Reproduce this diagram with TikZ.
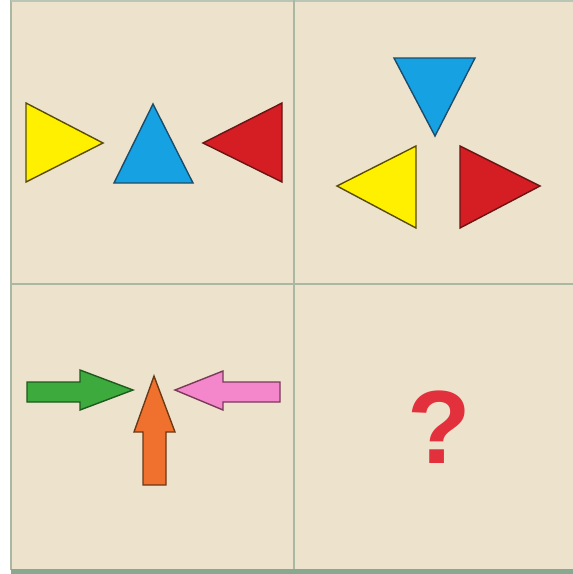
\documentclass[tikz,border=0pt]{standalone}
\usepackage{fontspec}
\setmainfont{Liberation Sans}
\definecolor{bg}{HTML}{EDE2CC}
\definecolor{gridc}{HTML}{A9B8A2}
\definecolor{botc}{HTML}{88A890}
\definecolor{yel}{HTML}{FFF000}
\definecolor{yelo}{HTML}{5A4C08}
\definecolor{blu}{HTML}{16A2E2}
\definecolor{bluo}{HTML}{1C4C6C}
\definecolor{rd}{HTML}{D41E24}
\definecolor{rdo}{HTML}{6A1414}
\definecolor{grn}{HTML}{3CAA3C}
\definecolor{grno}{HTML}{1E5A1E}
\definecolor{pnk}{HTML}{F486CC}
\definecolor{pnko}{HTML}{7A3A58}
\definecolor{org}{HTML}{F0702E}
\definecolor{orgo}{HTML}{6A3A14}
\definecolor{qm}{HTML}{E2303C}
\tikzset{
  shp/.style={line width=1.4pt, line join=miter},
  ytri/.style={shp, fill=yel, draw=yelo},
  btri/.style={shp, fill=blu, draw=bluo},
  rtri/.style={shp, fill=rd, draw=rdo},
  garr/.style={shp, fill=grn, draw=grno},
  parr/.style={shp, fill=pnk, draw=pnko},
  oarr/.style={shp, fill=org, draw=orgo},
  gline/.style={draw=gridc, line width=1.5pt}
}
\begin{document}
\begin{tikzpicture}[x=1pt,y=-1pt]
\useasboundingbox (0,0) rectangle (573,574);
\fill[white] (0,0) rectangle (573,574);
\fill[bg] (11,0) rectangle (573,570);
% borders and dividers
\draw[gline] (11,0) -- (11,570);
\draw[draw=gridc!80!white, line width=2pt] (11,1) -- (573,1);
\draw[gline] (294,0) -- (294,570);
\draw[gline] (11,284) -- (573,284);
\fill[botc] (11,569) rectangle (573,574);
% top-left panel
\draw[ytri] (26,103) -- (103,143) -- (26,182) -- cycle;
\draw[btri] (153,104) -- (193,183) -- (114,183) -- cycle;
\draw[rtri] (282,103) -- (203,143) -- (282,182) -- cycle;
% top-right panel
\draw[btri] (394,58) -- (475,58) -- (435,136) -- cycle;
\draw[ytri] (416,146) -- (337,186) -- (416,228) -- cycle;
\draw[rtri] (460,146) -- (540,186) -- (460,228) -- cycle;
% bottom-left panel
\draw[garr] (27,382) -- (80,382) -- (80,370) -- (133,390) -- (80,410) -- (80,402) -- (27,402) -- cycle;
\draw[parr] (280,382) -- (223,382) -- (223,371) -- (175,390) -- (223,410) -- (223,402) -- (280,402) -- cycle;
\draw[oarr] (143,485) -- (143,432) -- (134,432) -- (154,376) -- (175,432) -- (166,432) -- (166,485) -- cycle;
% bottom-right panel
\node[inner sep=0pt, text=qm, font=\fontsize{104}{110}\selectfont\bfseries] (q) at (439,427) {?};
\end{tikzpicture}
\end{document}
